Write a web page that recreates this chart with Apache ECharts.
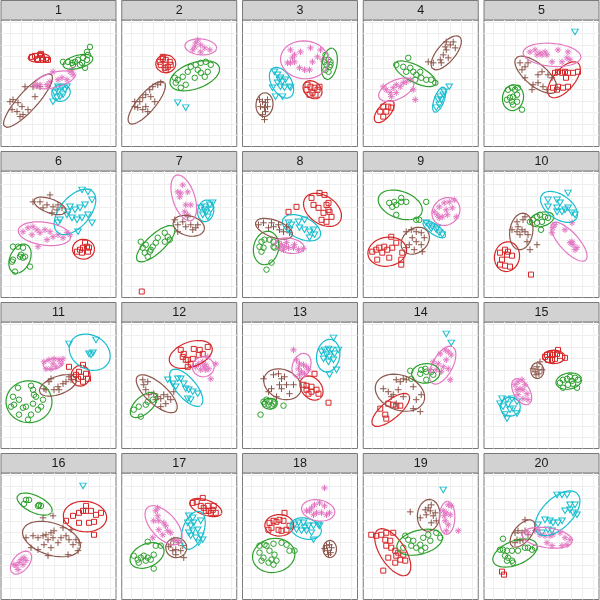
<!DOCTYPE html>
<html><head><meta charset="utf-8">
<script src="https://cdn.jsdelivr.net/npm/echarts@6/dist/echarts.min.js"></script>
<style>html,body{margin:0;padding:0;background:#fff}#c{width:600px;height:600px}</style>
</head><body><div id="c"></div>
<script>
// facet labels
const panelLabels = ['1','2','3','4','5','6','7','8','9','10','11','12','13','14','15','16','17','18','19','20'];
// grid line positions (data units)
const xGridVals = [9,20,31,42,53,64,75,87,98,109];
const yGridVals = [11,22,34,45,57,68,79,91,102,114,125];

// points per panel (x, y)
const redPoints = [
 [[31,90],[34,91],[36,88],[39,92],[41,89],[42,87],[45,87],[47,87],[37,87],[40,93]],
 [[38,85],[41,88],[44,87],[48,85],[46,80],[43,79],[39,82],[49,82],[44,77],[41,90]],
 [[65,62],[68,60],[72,59],[75,57],[70,54],[67,52],[73,52],[77,60],[64,57]],
 [[17,35],[20,40],[25,40],[23,35],[20,30],[28,39]],
 [[71,74],[74,75],[78,74],[81,75],[84,74],[89,74],[94,75],[69,59],[74,60],[79,59],[84,60],[82,69],[73,57]],
 [[76,46],[79,48],[82,50],[86,51],[81,45],[87,46],[84,55],[88,50]],
 [[20,6]],
 [[69,100],[77,105],[82,103],[71,93],[76,90],[84,93],[86,88],[81,85],[87,86],[89,81],[79,78],[84,76],[86,95],[46,86],[54,91]],
 [[9,46],[13,48],[16,50],[21,51],[24,48],[29,50],[28,61],[33,55],[39,45],[14,38],[26,40],[38,33],[38,38],[19,45]],
 [[16,45],[21,48],[24,46],[28,42],[18,38],[21,32],[26,31],[16,33],[23,43],[47,23]],
 [[68,82],[82,84],[78,77],[75,74],[80,72],[85,75],[87,70],[82,67],[77,70],[73,72]],
 [[59,99],[62,95],[61,92],[66,89],[71,90],[72,100],[78,99],[86,102],[77,94],[69,85],[66,82],[64,89],[81,95]],
 [[61,64],[64,63],[69,62],[72,75],[64,59],[69,57],[74,59],[76,55],[66,55],[86,46]],
 [[17,40],[22,34],[23,30],[30,44],[33,43],[37,43],[25,45]],
 [[63,94],[66,95],[69,94],[73,95],[76,93],[71,90],[68,89],[64,89],[81,91],[61,92],[74,99]],
 [[65,79],[72,84],[78,87],[85,89],[90,89],[95,85],[100,87],[78,77],[88,77],[93,78],[85,94],[93,65],[82,89]],
 [[71,97],[75,98],[81,102],[79,94],[82,92],[86,94],[87,89],[91,90],[94,87],[89,87],[84,89],[92,94]],
 [[27,77],[31,79],[34,78],[37,80],[42,87],[41,79],[36,70],[39,69],[44,70],[47,74],[29,72],[26,70]],
 [[8,65],[13,64],[18,65],[23,67],[30,67],[22,60],[27,59],[23,54],[28,52],[32,49],[35,47],[40,45],[37,40],[32,37],[25,42],[20,29],[42,39],[33,44]],
 [[18,28],[20,25]]
];
const greenPoints = [
 [[62,85],[67,85],[71,84],[74,85],[77,87],[81,84],[84,79],[86,87],[87,92],[89,100],[86,95],[79,82],[72,82],[82,89]],
 [[56,67],[61,70],[66,75],[69,80],[74,82],[79,84],[84,85],[89,82],[79,74],[83,70],[73,69],[64,62],[59,59],[54,64],[53,69],[76,77],[86,75]],
 [[83,92],[86,87],[88,85],[84,82],[87,80],[83,77],[88,82],[86,75],[82,85]],
 [[33,82],[40,80],[45,89],[47,79],[50,75],[53,72],[58,69],[63,67],[68,67],[72,64],[43,75],[57,75],[52,67]],
 [[24,57],[28,59],[31,57],[33,52],[29,50],[26,49],[23,47],[28,45],[33,45],[29,42],[38,37],[34,59]],
 [[12,51],[17,51],[22,50],[20,43],[22,40],[19,41],[12,38],[11,36],[29,31],[14,26],[24,41]],
 [[19,56],[21,50],[23,45],[26,41],[29,48],[31,51],[34,55],[36,60],[43,65],[46,61],[48,58],[43,56],[28,46],[24,53]],
 [[19,56],[22,58],[27,58],[31,56],[17,51],[21,50],[19,46],[32,50],[29,35],[24,28],[31,51]],
 [[26,95],[31,96],[29,91],[33,93],[38,100],[38,96],[43,96],[33,83],[53,78],[56,78],[63,96]],
 [[49,78],[53,81],[56,83],[61,81],[64,80],[58,76],[53,75],[57,68],[46,76]],
 [[17,61],[30,63],[32,59],[33,54],[35,52],[12,52],[18,49],[13,44],[22,41],[25,42],[32,45],[37,39],[40,42],[42,49],[30,34],[18,34],[27,29],[10,42]],
 [[19,32],[17,42],[24,44],[26,47],[31,49],[12,39]],
 [[21,47],[24,49],[27,47],[31,45],[26,44],[32,47],[29,43],[22,45],[41,43],[18,34]],
 [[47,78],[58,79],[62,80],[63,77],[68,77],[70,74],[63,69],[48,70],[57,75]],
 [[76,66],[79,69],[83,70],[86,72],[91,71],[94,69],[89,65],[84,64],[79,61],[93,61],[88,68]],
 [[23,96],[25,100],[28,100],[38,95],[40,94],[37,94]],
 [[26,58],[34,54],[39,54],[16,40],[19,42],[22,44],[26,42],[32,45],[29,40],[17,37],[32,31],[12,44],[24,39]],
 [[17,54],[22,55],[31,56],[39,57],[44,55],[47,49],[52,49],[17,47],[21,42],[27,49],[32,45],[29,40],[31,35],[34,39],[26,37],[19,39],[24,54]],
 [[42,64],[45,60],[50,59],[57,55],[60,62],[65,65],[67,59],[62,52],[73,67],[77,62],[53,52],[48,54],[58,49],[40,52]],
 [[19,61],[16,50],[19,50],[23,49],[28,49],[34,49],[41,52],[44,52],[48,50],[24,42],[28,39],[29,37],[23,39],[21,44],[51,52]]
];
const cyanPoints = [
 [[54,54],[57,55],[61,59],[64,57],[62,52],[59,50],[56,49],[52,45],[66,60],[57,60]],
 [[56,44],[64,39]],
 [[32,75],[35,72],[38,69],[40,65],[43,67],[47,60],[48,59],[42,59],[38,60],[35,64],[30,59],[33,50],[40,50],[37,67]],
 [[86,60],[81,55],[77,50],[75,47],[78,47],[76,42],[73,39],[80,52]],
 [[91,115]],
 [[81,108],[87,106],[91,98],[84,93],[79,90],[74,88],[69,91],[66,83],[71,80],[76,78],[81,80],[87,83],[91,75],[59,78],[57,75],[77,66],[67,86]],
 [[79,90],[83,91],[88,93],[89,88],[84,85],[81,83],[86,81],[91,95],[83,88]],
 [[46,75],[49,73],[56,76],[62,78],[62,68],[67,66],[71,68],[57,70],[47,68],[67,60],[72,63]],
 [[63,75],[66,72],[69,71],[73,68],[76,65],[79,63],[68,69],[74,70]],
 [[64,98],[73,98],[84,105],[76,95],[64,91],[73,86],[78,86],[81,88],[84,90],[88,85],[91,83],[73,90]],
 [[68,105],[95,109],[88,95],[92,96],[90,94]],
 [[46,69],[51,65],[56,70],[59,70],[62,65],[64,60],[67,59],[71,57],[69,49],[66,50],[76,55],[54,62]],
 [[91,111],[79,97],[82,99],[86,100],[89,99],[96,99],[84,94],[87,92],[81,90],[91,89],[86,87],[94,79],[87,74],[92,95]],
 [[83,115],[88,106]],
 [[18,50],[23,49],[28,50],[33,47],[24,44],[19,42],[29,40],[26,39],[21,34],[33,35],[23,30],[16,45]],
 [[82,114]],
 [[67,84],[71,82],[66,77],[69,74],[72,77],[79,79],[71,69],[76,70],[69,64],[74,62],[79,64],[81,60],[77,57],[67,67]],
 [[52,75],[56,77],[61,77],[66,74],[71,74],[76,75],[54,70],[59,69],[64,69],[69,67],[71,60],[77,74],[62,72]],
 [[80,110]],
 [[73,105],[78,105],[83,105],[86,95],[91,95],[86,90],[81,89],[89,87],[93,85],[61,80],[66,79],[69,77],[74,77],[78,79],[64,70],[68,69],[54,75],[58,67]]
];
const brownPoints = [
 [[12,47],[11,37],[16,35],[21,40],[22,32],[19,30],[27,37],[24,60],[32,60],[36,61],[34,50],[9,45],[17,44],[39,60]],
 [[13,40],[18,45],[21,49],[24,52],[28,57],[31,60],[36,62],[39,64],[16,39],[21,37],[26,35],[24,40],[33,45],[29,50],[13,45]],
 [[17,47],[20,45],[23,44],[25,40],[22,39],[18,40],[23,35],[20,32],[22,27],[25,47]],
 [[65,85],[70,84],[77,87],[80,92],[83,97],[87,102],[90,105],[83,105],[78,84],[85,89],[92,99],[82,100]],
 [[36,84],[41,80],[38,77],[44,84],[41,69],[48,57],[54,72],[58,75],[54,64],[59,60],[64,72],[68,69],[63,57],[49,62]],
 [[32,96],[39,96],[49,103],[46,93],[52,91],[56,88],[57,93],[42,90],[51,85],[61,90]],
 [[53,78],[56,73],[61,76],[64,71],[69,73],[71,68],[74,70],[66,81],[56,66],[76,73]],
 [[16,73],[21,75],[29,75],[31,71],[37,68],[41,66],[44,71],[47,65],[36,73],[26,70]],
 [[43,66],[48,68],[53,66],[58,65],[61,60],[49,60],[46,53],[53,56],[58,53],[43,50],[59,46],[51,48]],
 [[33,76],[39,78],[34,71],[38,68],[41,66],[33,66],[36,63],[44,63],[43,56],[46,48],[53,53],[28,68],[41,81]],
 [[43,60],[48,67],[53,59],[57,62],[58,59],[62,65],[65,67],[68,72],[70,69],[50,70],[45,59]],
 [[21,69],[26,67],[22,64],[24,59],[32,55],[36,52],[39,50],[42,54],[46,52],[49,49],[44,45],[34,49],[27,54],[52,57],[39,42]],
 [[21,70],[31,74],[36,75],[39,70],[42,72],[37,64],[44,64],[51,64],[29,60],[39,60],[47,55],[34,52],[26,57]],
 [[20,60],[25,57],[30,54],[33,69],[37,67],[40,70],[43,69],[35,59],[40,52],[28,52],[50,62],[58,54],[53,49],[57,37],[50,40],[33,45]],
 [[49,80],[53,82],[54,79],[51,77],[55,75],[52,74],[58,79],[56,87]],
 [[25,62],[32,64],[37,62],[42,64],[45,65],[47,60],[50,67],[53,69],[52,62],[57,57],[60,62],[62,72],[65,64],[68,60],[72,55],[75,60],[78,57],[77,49],[67,45],[47,44],[37,50],[30,52],[43,55],[50,52],[42,82],[52,84],[70,70]],
 [[49,55],[52,59],[57,57],[61,54],[54,50],[51,49],[59,49],[54,45],[62,42],[47,53]],
 [[84,54],[87,55],[89,52],[85,49],[88,47],[86,45],[82,51]],
 [[47,88],[57,82],[62,90],[65,92],[68,95],[67,89],[70,84],[63,85],[73,79],[68,77],[72,87]],
 [[41,80],[31,67],[34,69],[38,67],[41,69],[33,60],[36,59],[39,60],[44,65],[31,57]]
];
const pinkPoints = [
 [[34,61],[39,62],[46,62],[49,65],[52,75],[61,69],[66,67],[69,75],[72,72],[71,77],[47,60],[57,67]],
 [[71,97],[74,104],[76,107],[79,102],[83,99],[88,97],[79,95],[73,100]],
 [[48,97],[52,92],[48,84],[52,85],[58,95],[68,99],[70,85],[75,90],[78,97],[80,87],[57,79],[62,77],[67,77],[45,84],[50,89]],
 [[20,60],[23,57],[27,54],[30,59],[33,62],[37,60],[40,64],[43,65],[47,67],[50,57],[28,50],[33,54],[52,47]],
 [[46,95],[51,97],[56,94],[61,95],[63,92],[68,85],[74,97],[78,85],[83,89],[84,95],[86,87],[58,92],[53,92]],
 [[22,66],[27,70],[32,71],[36,68],[39,65],[44,68],[49,66],[52,61],[57,63],[62,60],[66,65],[69,63],[37,51],[46,58],[31,63]],
 [[56,106],[59,105],[66,106],[58,101],[64,93],[69,93],[63,86],[66,83],[61,113]],
 [[36,56],[39,53],[42,51],[46,50],[51,50],[56,48],[61,49],[41,48],[44,55],[37,50],[52,53]],
 [[71,86],[76,91],[81,95],[86,96],[91,98],[89,90],[84,83],[79,81],[76,80],[93,81],[74,83],[83,88]],
 [[69,70],[68,65],[81,68],[88,56],[89,53],[93,50],[91,48],[86,55],[88,75],[71,73]],
 [[43,87],[48,89],[53,90],[58,89],[60,85],[55,82],[50,80],[45,80],[52,85],[62,90]],
 [[74,82],[77,85],[81,87],[84,84],[87,80],[89,70],[79,79],[84,79],[94,85],[86,92],[82,82]],
 [[51,99],[54,89],[57,85],[61,84],[64,82],[56,80],[59,77],[62,75],[66,79],[57,74]],
 [[77,95],[82,99],[85,97],[88,94],[70,87],[75,85],[80,82],[85,80],[73,79],[78,77],[87,69],[67,79],[83,89]],
 [[31,64],[34,67],[38,69],[36,60],[39,59],[43,55],[34,54],[39,50],[44,49],[33,59],[41,64]],
 [[15,34],[18,37],[20,40],[23,42],[22,35],[17,30],[13,35],[25,39]],
 [[34,89],[36,84],[32,79],[37,79],[42,77],[44,74],[46,69],[49,67],[52,60],[31,62],[41,65],[37,70],[56,59],[36,92]],
 [[82,112],[64,89],[69,92],[72,95],[77,97],[82,94],[74,87],[79,87],[84,85],[87,87],[71,85],[67,89]],
 [[80,89],[83,87],[87,85],[85,95],[88,94],[82,79],[85,75],[83,69],[95,69],[81,84]],
 [[44,67],[51,69],[56,65],[61,64],[66,64],[69,65],[76,67],[81,62],[83,55],[78,54],[68,54],[63,57],[86,60],[54,70]]
];

// ellipses per panel: [centre x, centre y, semi-major, semi-minor, angle in degrees]
const redEllipses = [[38,89,11,4.5,0],[44,83,10,9,0],[70,57,10.5,8,-40],[21,35,13.5,6.5,50],[80,67,22,10.5,50],[82.5,48.5,11,10,0],null,[80,88,21,14,-35],[24,46,19.5,14.5,10],[23,41,15,12.5,80],[79.5,73,10.5,9.5,80],[69,94.4,22.5,12.5,20],[69,60.7,13.5,10,-50],[27.5,38.7,23.5,9,40],[69.8,92,11.2,6.7,0],[84,83.3,21.7,15.3,-5],[84,92.3,17,7.5,-20],[36.8,74.5,14.5,10.8,0],[29.5,47.5,27,12.5,-57],null];
const greenEllipses = [[77,85,15.5,6.5,15],[73,71,26,13,20],[87,83,16,7.5,80],[52,73,23,8.5,-27],[29,49,13,10.5,80],[19,39,15.5,10,65],[34,54,25,9,43],[23.6,49.7,17,12.5,78],[37,93,23,13.5,-20],[57.7,78.5,12.5,7,15],[28,47,23,21,0],[22,43.7,16.5,8.5,42],[27.3,45,7.5,5.5,0],[62.5,75.4,14.2,9.8,5],[84.8,67.7,13,8,10],[33.6,95.8,19,8.5,-25],[25.3,44.2,18,11.5,25],[31.2,44.2,21.3,17,10],[56.4,57.5,23.5,12,15],[31,46.7,23.5,12,22]];
const cyanEllipses = [[60,54,9.5,8.5,30],null,[39,64,17,10,-60],[76,47,13.5,5,70],null,[74,86,27,15,50],[84,87,11,8,80],[59,70,20.5,11,-25],[71,68.5,13.5,5,-35],[75,91,21,12,-35],[88.7,96.7,21.5,17,-30],[64.5,61,23,10,-50],[85.7,93.2,16.5,11.5,80],null,[26.3,42,10,9.5,0],null,[71.5,69.5,20,10.5,70],[63.2,71.2,16,10.3,-15],null,[73.5,86.5,28,15,45]];
const brownEllipses = [[27,46,35,9.5,48],[25,44,27,9,50],[22,42,12,8.5,85],[83,94,21,9,50],[52,72,26,11,-40],[49,92,17,7,-20],[67,72,16,10,-15],[31.5,69,19.5,8.5,-20],[52,57,15.5,12,40],[37.3,66.3,18.5,11.5,82],[57,63.3,19.5,9,20],[35,55,26,10.5,-42],[40,64.5,19.5,14.5,-25],[36.7,56,25.5,17.5,-20],[53.3,78.2,8,6.5,90],[50.5,60.7,30,16,-18],[54.5,52,10.5,10,0],[87.3,50.7,8.7,6.7,90],[65.4,84.5,16,11.2,85],[38.5,66.2,16.5,8.5,50]];
const pinkEllipses = [[54,67,21,7.5,15],[79,100,16,8,-5],[62,87,24,19,-5],[33,57,19,9.5,25],[68,92,29,11.5,-5],[43.5,64,26.5,11.5,-8],[62,100,24,11,-72],[47,52,15,7.5,-10],[82.7,86.3,15,13,45],[85,56,25,9.5,-48],[52,85,10,5.5,10],[81.5,82,11,10,0],[59,83,13,9,70],[79.4,83.7,21,10,62],[37.7,57,14.5,8,-60],[20,37,13.5,8,50],[41.8,74.5,24,12.5,-48],[75.7,89.5,16.8,10.5,-10],[83.8,82,16.7,7.8,88],[63.2,62,25.5,10,-8]];

const groups = [
 {pts: redPoints, ell: redEllipses, color:'#d62728', symbol:'rect', size:5},
 {pts: greenPoints, ell: greenEllipses, color:'#2ca02c', symbol:'circle', size:5.5},
 {pts: cyanPoints, ell: cyanEllipses, color:'#17becf', symbol:'path://M0,0L10,0L5,8.7Z', size:[6.5,5.6]},
 {pts: brownPoints, ell: brownEllipses, color:'#8c564b', symbol:'path://M5,0L5,10M0,5L10,5', size:6.5},
 {pts: pinkPoints, ell: pinkEllipses, color:'#e377c2', symbol:'path://M5,0L5,10M0,5L10,5M1.5,1.5L8.5,8.5M1.5,8.5L8.5,1.5', size:6.5}
];

function ellipseLine(e){
  const out=[]; const th=e[4]*Math.PI/180;
  for(let i=0;i<=90;i++){
    const t=i/90*2*Math.PI; const ca=Math.cos(t)*e[2], sb=Math.sin(t)*e[3];
    out.push([e[0]+ca*Math.cos(th)-sb*Math.sin(th), e[1]+ca*Math.sin(th)+sb*Math.cos(th)]);
  }
  return out;
}

const grids=[], xAxes=[], yAxes=[], series=[], graphics=[];
const PW=115, PH=126.5, STRIP=19.5;
panelLabels.forEach((lab,i)=>{
  const c=i%5, r=Math.floor(i/5);
  const left=1+c*120.75, top=20+r*151;
  grids.push({left:left, top:top, width:PW, height:PH, show:true, backgroundColor:'#ffffff', borderColor:'#7a7a7a', borderWidth:1});
  xAxes.push({gridIndex:i, type:'value', min:0, max:115, show:false});
  yAxes.push({gridIndex:i, type:'value', min:0, max:127, show:false});
  series.push({type:'scatter', xAxisIndex:i, yAxisIndex:i, data:[], silent:true, z:0,
    markLine:{silent:true, z:0, animation:false, symbol:['none','none'], label:{show:false},
      lineStyle:{color:'#efefef', width:1, type:'solid'}, emphasis:{disabled:true},
      data:[...xGridVals.map(v=>({xAxis:v})), ...yGridVals.map(v=>({yAxis:v}))]}});
  groups.forEach(g=>{
    series.push({type:'scatter', xAxisIndex:i, yAxisIndex:i, data:g.pts[i], symbol:g.symbol, symbolSize:g.size,
      itemStyle:{color:'rgba(0,0,0,0)', borderColor:g.color, borderWidth:1, opacity:1}, emphasis:{disabled:true}, silent:true, z:2});
  });
  groups.forEach(g=>{
    if(g.ell[i]) series.push({type:'line', xAxisIndex:i, yAxisIndex:i, data:ellipseLine(g.ell[i]), showSymbol:false, symbol:'none',
      lineStyle:{color:g.color, width:1.2}, silent:true, z:3, emphasis:{disabled:true}});
  });
  graphics.push({type:'rect', shape:{x:left, y:top-STRIP, width:PW, height:STRIP}, style:{fill:'#d2d2d2', stroke:'#7a7a7a', lineWidth:1}, silent:true});
  graphics.push({type:'text', x:left+PW/2, y:top-STRIP/2+0.5, style:{text:lab, fill:'#1a1a1a', font:'12.5px "Liberation Sans", Arial, sans-serif', align:'center', verticalAlign:'middle'}, silent:true});
});

const chart = echarts.init(document.getElementById('c'), null, {renderer:'canvas'});
chart.setOption({animation:false, grid:grids, xAxis:xAxes, yAxis:yAxes, series:series, graphic:graphics});
</script>
</body></html>
